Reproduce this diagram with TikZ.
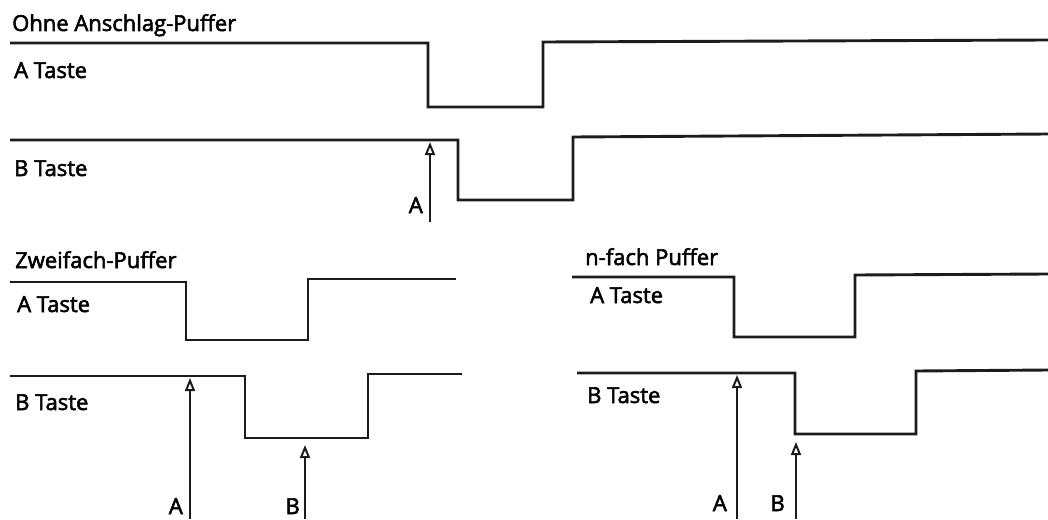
\documentclass[tikz,border=0pt]{standalone}
\usepackage{fontspec}
\setmainfont{Open Sans}[FakeBold=2.5]
\usetikzlibrary{arrows.meta}
\definecolor{inkblack}{HTML}{1C1C1C}

\begin{document}
\begin{tikzpicture}[x=1pt,y=-1pt,
    signal/.style={line width=2.9pt,inkblack},
    trigger/.style={line width=1.2pt,inkblack,-{Triangle[open,length=13pt,width=10pt,line width=2pt]}},
    lbl/.style={anchor=base west,inner sep=0pt,font=\fontsize{22}{24}\selectfont},
    key/.style={anchor=base east,inner sep=0pt,font=\fontsize{22}{24}\selectfont}]
    \useasboundingbox (0,0) rectangle (1048,519);
    % Ohne Anschlag-Puffer
    \node[lbl] (title1) at (12,31) {Ohne Anschlag-Puffer};
    \node[lbl] (ta1) at (14,78) {A Taste};
    \node[lbl] (tb1) at (14,176) {B Taste};
    \draw[signal] (10,43) -- (428,43) -- (428,107) -- (543,107) -- (543,42) -- (1048,40);
    \draw[signal] (10,140) -- (458,140) -- (458,200) -- (573,200) -- (573,137) -- (1048,134);
    % Zweifach-Puffer
    \node[lbl] (title2) at (15,268) {Zweifach-Puffer};
    \node[lbl] (ta2) at (17,312) {A Taste};
    \node[lbl] (tb2) at (15,410) {B Taste};
    \draw[signal] (10,282) -- (186,282) -- (186,340) -- (308,340) -- (308,279) -- (456,279);
    \draw[signal] (10,376) -- (245,376) -- (245,438) -- (368,438) -- (368,374) -- (462,374);
    % n-fach Puffer
    \node[lbl] (title3) at (585,265) {n-fach Puffer};
    \node[lbl] (ta3) at (590,303) {A Taste};
    \node[lbl] (tb3) at (587,403) {B Taste};
    \draw[signal] (572,277) -- (734,277) -- (734,337) -- (855,337) -- (855,275) -- (1048,274);
    \draw[signal] (577,373) -- (795,373) -- (795,434) -- (916,434) -- (916,371) -- (1048,370);
    % Anschlaege
    \foreach \n/\x/\y/\f/\t/\lx/\ly in {1/430/142/222/A/423/213, 2/190/378/519/A/183/514,
        3/305/445/519/B/300/514, 4/737/375/519/A/727/511, 5/796/442/519/B/785/511} {
      \coordinate (hit\n) at (\x,\y);
      \coordinate (foot\n) at (\x,\f);
      \draw[trigger] (foot\n) -- (hit\n);
      \node[key] (key\n) at (\lx,\ly) {\t};
    };
\end{tikzpicture}
\end{document}
